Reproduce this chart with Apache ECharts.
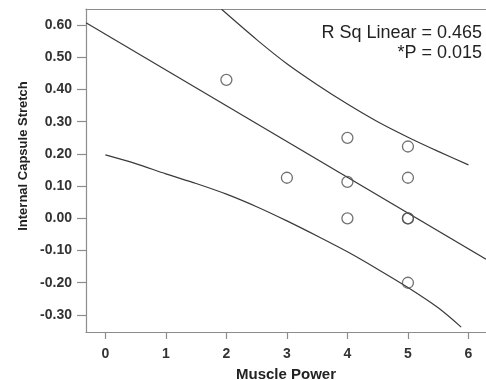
<!DOCTYPE html>
<html>
<head>
<meta charset="utf-8">
<script src="https://cdn.jsdelivr.net/npm/echarts@6/dist/echarts.min.js"></script>
<style>html,body{margin:0;padding:0;background:#fff}#c{width:486px;height:380px}</style>
</head>
<body>
<div id="c"></div>
<script>
// Observed data points (Muscle Power, Internal Capsule Stretch)
const pointX = [2, 3, 4, 4, 4, 5, 5, 5, 5, 5];
const pointY = [0.43, 0.126, 0.25, 0.113, 0.0, 0.223, 0.126, 0.0, 0.0, -0.2];
// Fit line endpoints
const fitX = [-0.32, 6.29];
const fitY = [0.607, -0.127];
// Upper interval curve
const upperX = [1.92, 2.5, 3.0, 3.5, 4.0, 4.5, 5.0, 5.5, 6.0];
const upperY = [0.649, 0.555, 0.48, 0.415, 0.355, 0.30, 0.252, 0.208, 0.166];
// Lower interval curve
const lowerX = [0.0, 0.5, 1.0, 1.5, 2.0, 2.5, 3.0, 3.5, 4.0, 4.5, 5.0, 5.5, 5.88];
const lowerY = [0.197, 0.17, 0.138, 0.108, 0.075, 0.036, -0.008, -0.055, -0.104, -0.158, -0.215, -0.278, -0.338];
// Tick labels
const xTicks = [0, 1, 2, 3, 4, 5, 6];
const yTicks = [-0.3, -0.2, -0.1, 0.0, 0.1, 0.2, 0.3, 0.4, 0.5, 0.6];
const annotation = ['R Sq Linear = 0.465', '*P = 0.015'];
const xTitle = 'Muscle Power';
const yTitle = 'Internal Capsule Stretch';

const zip = (a, b) => a.map((v, i) => [v, b[i]]);
const FONT = 'Liberation Sans, Arial, sans-serif';
const axisGray = '#8c8c8c';
const lineCol = '#3a3a3a';

const chart = echarts.init(document.getElementById('c'), null, {renderer: 'canvas'});
chart.setOption({
  animation: false,
  backgroundColor: '#fff',
  grid: {left: 86, right: 0, top: 9, bottom: 48, containLabel: false, outerBoundsMode: 'none'},
  xAxis: [{
    type: 'value', min: -0.32, max: 6.29, position: 'bottom',
    name: xTitle, nameLocation: 'middle', nameGap: 35,
    nameTextStyle: {fontFamily: FONT, fontSize: 15, fontWeight: 'bold', color: '#222'},
    axisLine: {show: true, onZero: false, lineStyle: {color: axisGray, width: 1.2}},
    axisTick: {show: true, length: 7, customValues: xTicks, lineStyle: {color: axisGray, width: 1.2}},
    axisLabel: {show: true, customValues: xTicks, margin: 15, fontFamily: FONT, fontSize: 14,
      fontWeight: 'bold', color: '#333', formatter: v => String(Math.round(v))},
    splitLine: {show: false}
  }, {
    type: 'value', min: -0.32, max: 6.29, position: 'top',
    axisLine: {show: true, onZero: false, lineStyle: {color: axisGray, width: 1.2}},
    axisTick: {show: false}, axisLabel: {show: false}, splitLine: {show: false}
  }],
  yAxis: [{
    type: 'value', min: -0.353, max: 0.65,
    axisLine: {show: true, onZero: false, lineStyle: {color: axisGray, width: 1.2}},
    axisTick: {show: true, length: 9, customValues: yTicks, lineStyle: {color: axisGray, width: 1.2}},
    axisLabel: {show: true, customValues: yTicks, margin: 14, fontFamily: FONT, fontSize: 14,
      fontWeight: 'bold', color: '#333', formatter: v => v.toFixed(2)},
    splitLine: {show: false}
  }],
  graphic: [
    {type: 'text', x: 23, y: 156, rotation: Math.PI / 2,
      style: {text: yTitle, fontFamily: FONT, fontSize: 13, fontWeight: 'bold', fill: '#222',
        textAlign: 'center', textVerticalAlign: 'middle'}},
    {type: 'text', x: 482, y: 33,
      style: {text: annotation[0], fontFamily: FONT, fontSize: 18, fill: '#222',
        textAlign: 'right', textVerticalAlign: 'middle'}},
    {type: 'text', x: 482, y: 53,
      style: {text: annotation[1], fontFamily: FONT, fontSize: 18, fill: '#222',
        textAlign: 'right', textVerticalAlign: 'middle'}}
  ],
  series: [
    {type: 'line', data: zip(fitX, fitY), symbol: 'none', clip: true,
      lineStyle: {color: lineCol, width: 1.2}},
    {type: 'line', data: zip(upperX, upperY), symbol: 'none', smooth: 0.3, clip: true,
      lineStyle: {color: lineCol, width: 1.2}},
    {type: 'line', data: zip(lowerX, lowerY), symbol: 'none', smooth: 0.3, clip: true,
      lineStyle: {color: lineCol, width: 1.2}},
    {type: 'scatter', data: zip(pointX, pointY), symbol: 'circle', symbolSize: 11,
      itemStyle: {color: 'rgba(255,255,255,0)', borderColor: '#505050', borderWidth: 1.3}, z: 5}
  ]
});
</script>
</body>
</html>
